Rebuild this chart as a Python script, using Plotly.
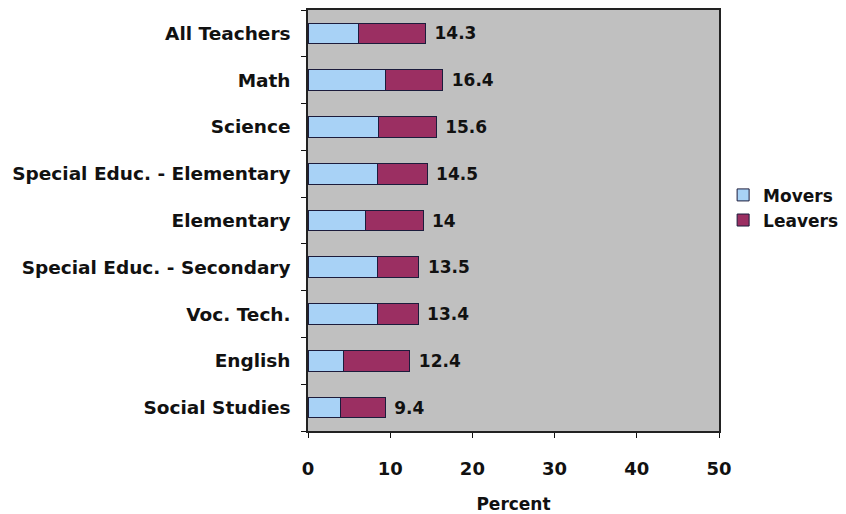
import plotly.graph_objects as go

categories = ["All Teachers", "Math", "Science", "Special Educ. - Elementary", "Elementary",
              "Special Educ. - Secondary", "Voc. Tech.", "English", "Social Studies"]
movers = [6.2, 9.4, 8.6, 8.4, 7.0, 8.4, 8.4, 4.3, 4.0]
leavers = [8.1, 7.0, 7.0, 6.1, 7.0, 5.1, 5.0, 8.1, 5.4]
total_labels = ["14.3", "16.4", "15.6", "14.5", "14", "13.5", "13.4", "12.4", "9.4"]
x_ticks = [0, 10, 20, 30, 40, 50]

font_family = "DejaVu Sans, Liberation Sans, Arial, sans-serif"

fig = go.Figure()
fig.add_trace(go.Bar(
    y=categories, x=movers, name="Movers", orientation="h",
    marker=dict(color="#a8d2f6", line=dict(color="#1c1c3c", width=1)),
))
fig.add_trace(go.Bar(
    y=categories, x=leavers, name="Leavers", orientation="h",
    marker=dict(color="#9b2f62", line=dict(color="#1c1c3c", width=1)),
    text=total_labels, texttemplate=" %{text}", textposition="outside", cliponaxis=False,
    textfont=dict(family=font_family, size=17, color="#111", weight="bold"),
))

# page body has an 8px default margin, so the figure is sized to fill the rest of the window
fig.update_layout(
    barmode="stack",
    bargap=0.56,
    width=838, height=506,
    margin=dict(l=300, r=127, t=2, b=83, autoexpand=False),
    paper_bgcolor="white",
    plot_bgcolor="#c0c0c0",
    showlegend=True,
    legend=dict(x=1.01, xanchor="left", y=0.53, yanchor="middle",
                font=dict(family=font_family, size=17, color="#111", weight="bold"),
                traceorder="normal", itemwidth=30),
    font=dict(family=font_family, color="#111"),
)
fig.update_yaxes(
    categoryorder="array", categoryarray=categories[::-1],
    tickson="boundaries", ticks="outside", ticklen=5, tickcolor="#111",
    showline=True, linecolor="#222", linewidth=1.5, mirror=True,
    tickfont=dict(family=font_family, size=18.5, color="#111", weight="bold"),
    ticklabelstandoff=12,
    showgrid=False,
)
fig.update_xaxes(
    range=[0, 50], tickvals=x_ticks, ticks="outside", ticklen=5, tickcolor="#111",
    showline=True, linecolor="#222", linewidth=1.5, mirror=True,
    tickfont=dict(family=font_family, size=18, color="#111", weight="bold"),
    ticklabelstandoff=16,
    showgrid=False, zeroline=False,
    title=dict(text="Percent", font=dict(family=font_family, size=17, color="#111", weight="bold"), standoff=29),
)

fig.write_html("out.html")
